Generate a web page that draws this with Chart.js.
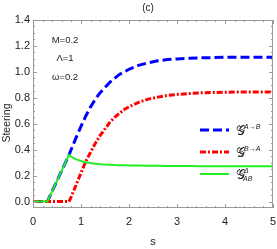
<!DOCTYPE html>
<html>
<head>
<meta charset="utf-8">
<script src="https://cdn.jsdelivr.net/npm/chart.js@4.4.1/dist/chart.umd.min.js"></script>
<style>
  html, body { margin: 0; padding: 0; background: #fff; }
  #wrap { width: 277px; height: 249px; }
</style>
</head>
<body>
<div id="wrap"><canvas id="chart"></canvas></div>
<script>
// s values (x axis)
const sValues = [0, 0.1, 0.2, 0.3, 0.4, 0.5, 0.6, 0.7, 0.75, 0.8, 0.9, 1.0, 1.1, 1.2, 1.3, 1.4, 1.5, 1.6, 1.7, 1.8, 1.9, 2.0, 2.2, 2.4, 2.6, 2.8, 3.0, 3.25, 3.5, 3.75, 4.0, 4.5, 5.0];
// G^{A->B}
const steerAB = [0, 0, 0, 0, 0.08, 0.16, 0.24, 0.32, 0.36, 0.405, 0.495, 0.58, 0.66, 0.73, 0.79, 0.84, 0.88, 0.92, 0.95, 0.98, 1.0, 1.02, 1.05, 1.07, 1.085, 1.095, 1.1, 1.105, 1.108, 1.11, 1.112, 1.113, 1.113];
// G^{B->A}
const steerBA = [0, 0, 0, 0, 0, 0, 0, 0, 0, 0.04, 0.13, 0.22, 0.31, 0.38, 0.45, 0.51, 0.56, 0.61, 0.65, 0.68, 0.71, 0.73, 0.765, 0.79, 0.805, 0.818, 0.826, 0.833, 0.838, 0.841, 0.843, 0.845, 0.845];
// G^{Delta}_{AB}
const steerDelta = [0, 0, 0, 0, 0.08, 0.16, 0.24, 0.32, 0.36, 0.345, 0.325, 0.312, 0.303, 0.297, 0.292, 0.288, 0.285, 0.283, 0.281, 0.28, 0.279, 0.278, 0.277, 0.276, 0.275, 0.274, 0.273, 0.273, 0.272, 0.272, 0.272, 0.272, 0.272];

const yTicks = [0, 0.2, 0.4, 0.6, 0.8, 1.0, 1.2, 1.4];
const xTicks = [0, 1, 2, 3, 4, 5];
const params = ['M=0.2', 'Λ=1', 'ω=0.2'];
const legendItems = [
  { sup: 'A→B', sub: '', color: '#0000ff', dash: [9, 4], width: 3 },
  { sup: 'B→A', sub: '', color: '#ff0000', dash: [6, 2, 2, 2], width: 3 },
  { sup: 'Δ', sub: 'AB', color: '#22ee22', dash: [], width: 2 }
];

const toPoints = (ys) => sValues.map((s, i) => ({ x: s, y: ys[i] }));

const frameColor = '#999';
const textColor = '#222';
const fontFamily = '"Liberation Sans", Arial, sans-serif';

// frame, inward ticks, annotations and legend
const extras = {
  id: 'extras',
  afterDatasetsDraw(chart) {
    const ctx = chart.ctx;
    const a = chart.chartArea;
    const xs = chart.scales.x, ys = chart.scales.y;
    ctx.save();
    ctx.strokeStyle = frameColor;
    ctx.lineWidth = 1;
    ctx.strokeRect(a.left + 0.5, a.top + 0.5, a.right - a.left - 1, a.bottom - a.top - 1);

    ctx.beginPath();
    for (let v = 0; v <= 5.0001; v += 0.2) {
      const px = Math.round(xs.getPixelForValue(v)) + 0.5;
      const major = Math.abs(v - Math.round(v)) < 1e-6;
      const len = major ? 4 : 2;
      ctx.moveTo(px, a.bottom); ctx.lineTo(px, a.bottom - len);
      ctx.moveTo(px, a.top); ctx.lineTo(px, a.top + len);
    }
    for (let v = 0; v <= 1.4001; v += 0.05) {
      const py = Math.round(ys.getPixelForValue(v)) + 0.5;
      const major = Math.abs(v * 5 - Math.round(v * 5)) < 1e-6;
      const len = major ? 4 : 2;
      ctx.moveTo(a.left, py); ctx.lineTo(a.left + len, py);
      ctx.moveTo(a.right, py); ctx.lineTo(a.right - len, py);
    }
    ctx.stroke();

    // parameter text
    ctx.fillStyle = textColor;
    ctx.font = '9.5px ' + fontFamily;
    ctx.textAlign = 'center';
    ctx.textBaseline = 'middle';
    params.forEach((t, i) => ctx.fillText(t, 65, 40 + i * 18.5));

    // panel label
    ctx.font = '10px ' + fontFamily;
    ctx.fillText('(c)', 148, 8);

    // y axis title
    ctx.save();
    ctx.translate(7, 123);
    ctx.rotate(-Math.PI / 2);
    ctx.font = '10.5px ' + fontFamily;
    ctx.fillText('Steering', 0, 0);
    ctx.restore();

    // legend
    legendItems.forEach((it, i) => {
      const y = 130 + i * 22;
      ctx.strokeStyle = it.color;
      ctx.lineWidth = it.width;
      ctx.setLineDash(it.dash);
      ctx.beginPath();
      ctx.moveTo(200, y); ctx.lineTo(229, y);
      ctx.stroke();
      ctx.setLineDash([]);
      ctx.fillStyle = textColor;
      ctx.textAlign = 'left';
      ctx.textBaseline = 'alphabetic';
      ctx.font = '13px "DejaVu Serif", serif';
      ctx.fillText('𝒢', 236, y + 5);
      const w = ctx.measureText('𝒢').width;
      ctx.font = 'italic 7px ' + fontFamily;
      ctx.fillText(it.sup, 236 + w - 1, y - 1);
      if (it.sub) ctx.fillText(it.sub, 236 + w - 2, y + 7);
    });
    ctx.restore();
  }
};

new Chart(document.getElementById('chart'), {
  type: 'line',
  data: {
    datasets: [
      {
        label: 'A→B',
        data: toPoints(steerAB),
        borderColor: '#0000ff',
        borderWidth: 3,
        borderDash: [9, 4],
        pointRadius: 0,
        tension: 0,
        order: 2
      },
      {
        label: 'B→A',
        data: toPoints(steerBA),
        borderColor: '#ff0000',
        borderWidth: 3,
        borderDash: [6, 2, 2, 2],
        pointRadius: 0,
        tension: 0,
        order: 1
      },
      {
        label: 'Delta AB',
        data: toPoints(steerDelta),
        borderColor: '#22ee22',
        borderWidth: 2,
        pointRadius: 0,
        tension: 0,
        order: 0
      }
    ]
  },
  options: {
    responsive: true,
    maintainAspectRatio: false,
    animation: false,
    layout: { padding: { top: 20, right: 4, left: 0, bottom: 0 } },
    plugins: {
      legend: { display: false },
      tooltip: { enabled: false }
    },
    scales: {
      x: {
        type: 'linear',
        min: 0,
        max: 5,
        afterBuildTicks: (scale) => { scale.ticks = xTicks.map(v => ({ value: v })); },
        afterFit: (scale) => {
          scale.height = 41;
          scale.paddingLeft = 0;
          scale.paddingRight = 0;
        },
        grid: { display: false, drawTicks: false },
        border: { display: false },
        ticks: {
          padding: 7,
          color: textColor,
          font: { family: fontFamily, size: 11 },
          callback: (v) => String(v)
        },
        title: {
          display: true,
          text: 's',
          color: textColor,
          padding: { top: 0, bottom: 0 },
          font: { family: fontFamily, size: 11 }
        }
      },
      y: {
        type: 'linear',
        min: -0.05,
        max: 1.4,
        afterBuildTicks: (scale) => { scale.ticks = yTicks.map(v => ({ value: v })); },
        afterFit: (scale) => {
          scale.width = 33;
          scale.paddingTop = 0;
          scale.paddingBottom = 0;
        },
        grid: { display: false, drawTicks: false },
        border: { display: false },
        ticks: {
          padding: 3,
          color: textColor,
          font: { family: fontFamily, size: 11 },
          callback: (v) => v.toFixed(1)
        }
      }
    }
  },
  plugins: [extras]
});
</script>
</body>
</html>
